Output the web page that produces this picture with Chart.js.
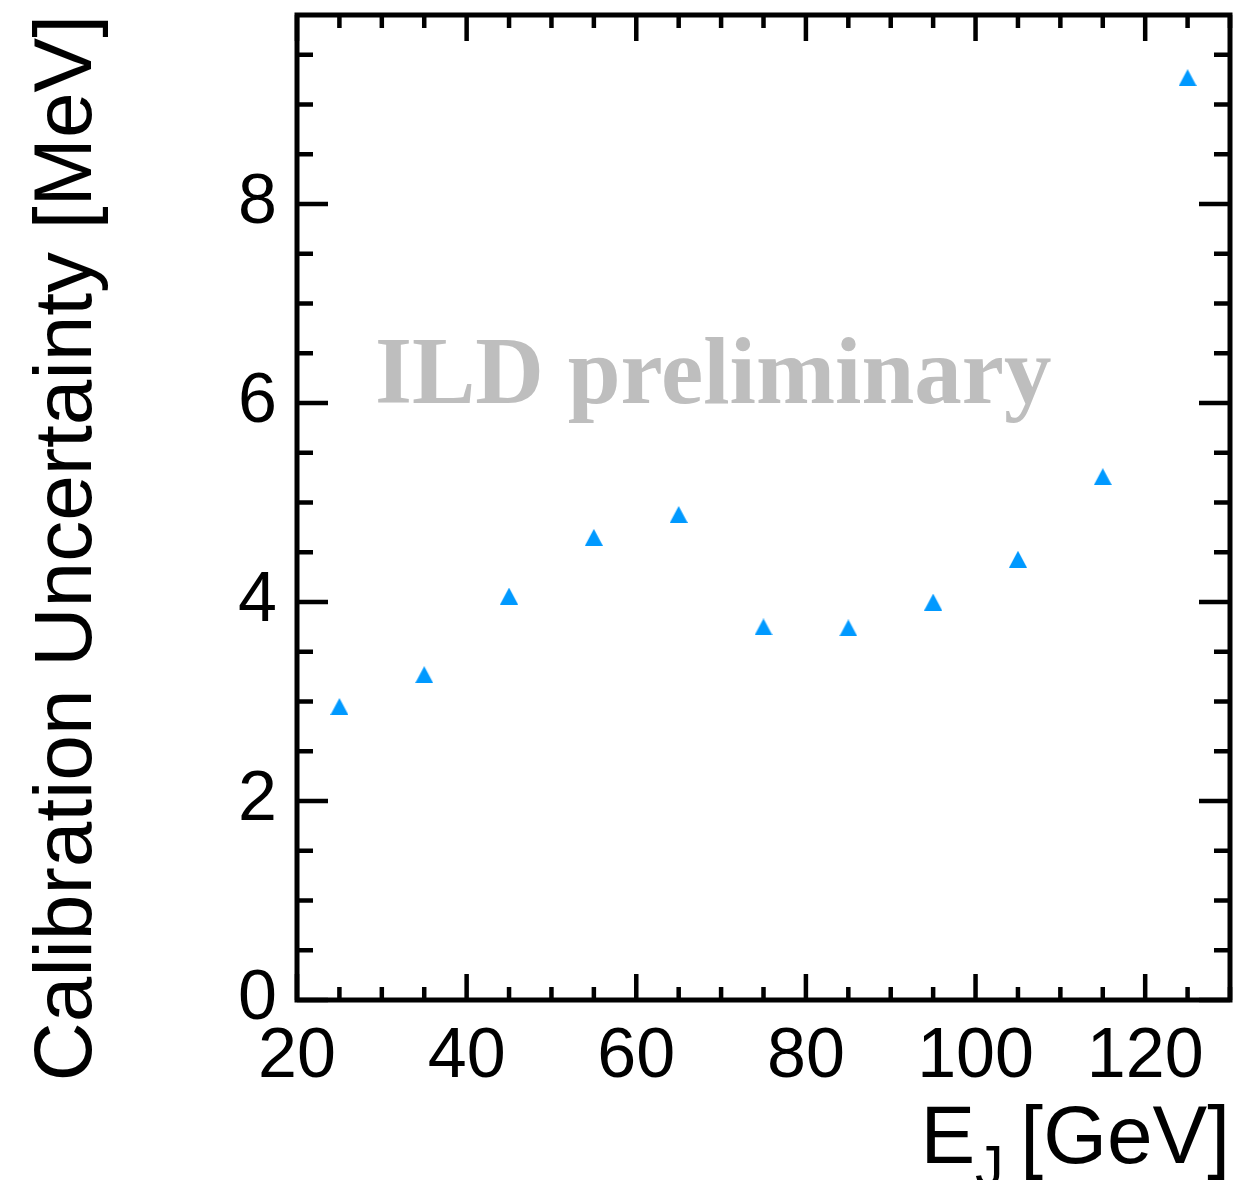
<!DOCTYPE html>
<html>
<head>
<meta charset="utf-8">
<script src="https://cdn.jsdelivr.net/npm/chart.js@4.4.1/dist/chart.umd.min.js"></script>
<style>
  html, body { margin: 0; padding: 0; background: #fff; }
  #wrap { width: 1253px; height: 1180px; }
</style>
</head>
<body>
<div id="wrap"><canvas id="calibChart" width="1253" height="1180"></canvas></div>
<script>
// jet energy [GeV] vs calibration uncertainty [MeV]
const jetEnergy = [25, 35, 45, 55, 65, 75, 85, 95, 105, 115, 125];
const calibUncertainty = [2.95, 3.27, 4.06, 4.65, 4.88, 3.75, 3.74, 4.00, 4.43, 5.26, 9.27];

// labelled (major) ticks
const xTickValues = [20, 40, 60, 80, 100, 120];
const yTickValues = [0, 2, 4, 6, 8];

const FONT = '"Liberation Sans", Helvetica, Arial, sans-serif';
const BLUE = '#0099ff';

// ROOT full triangle marker, centred on its bounding box
function triangleMarker(w, h, color) {
  const c = document.createElement('canvas');
  c.width = w; c.height = h;
  const g = c.getContext('2d');
  g.fillStyle = color;
  g.beginPath();
  g.moveTo(w / 2, 0);
  g.lineTo(w, h);
  g.lineTo(0, h);
  g.closePath();
  g.fill();
  return c;
}

// frame with inward ticks on all four sides
const rootFrame = {
  id: 'rootFrame',
  afterDraw(chart, args, o) {
    const {ctx, chartArea: a, scales: {x, y}} = chart;
    ctx.save();
    ctx.strokeStyle = '#000';
    ctx.lineWidth = o.tickWidth;
    ctx.beginPath();
    const nx = Math.round((x.max - x.min) / o.xMinor);
    for (let i = 0; i <= nx; i++) {
      const v = x.min + i * o.xMinor;
      const px = x.getPixelForValue(v);
      const len = xTickValues.includes(v) ? o.xMajorLen : o.xMinorLen;
      ctx.moveTo(px, a.bottom); ctx.lineTo(px, a.bottom - len);
      ctx.moveTo(px, a.top); ctx.lineTo(px, a.top + len);
    }
    const ny = Math.floor((y.max - y.min) / o.yMinor + 1e-9);
    for (let i = 0; i <= ny; i++) {
      const v = y.min + i * o.yMinor;
      const py = y.getPixelForValue(v);
      const len = yTickValues.includes(v) ? o.yMajorLen : o.yMinorLen;
      ctx.moveTo(a.left, py); ctx.lineTo(a.left + len, py);
      ctx.moveTo(a.right, py); ctx.lineTo(a.right - len, py);
    }
    ctx.stroke();
    ctx.lineWidth = o.frameWidth;
    ctx.strokeRect(a.left, a.top, a.right - a.left, a.bottom - a.top);
    ctx.restore();
  }
};

// x axis title with subscript, right aligned like ROOT
const xTitle = {
  id: 'xTitle',
  afterDraw(chart, args, o) {
    const {ctx, chartArea: a} = chart;
    const big = o.size + 'px ' + FONT;
    const small = Math.round(o.size * 0.7) + 'px ' + FONT;
    ctx.save();
    ctx.fillStyle = '#000';
    ctx.textBaseline = 'alphabetic';
    ctx.textAlign = 'left';
    ctx.font = big;
    const wE = ctx.measureText('E').width;
    const wRest = ctx.measureText(' [GeV]').width;
    ctx.font = small;
    const wJ = ctx.measureText('J').width - o.subKern;
    const base = a.bottom + o.baseline;
    let xx = a.right - (wE + wJ + wRest);
    ctx.font = big;
    ctx.fillText('E', xx, base);
    xx += wE;
    ctx.font = small;
    ctx.fillText('J', xx, base + o.subDrop);
    xx += wJ;
    ctx.font = big;
    ctx.fillText(' [GeV]', xx, base);
    ctx.restore();
  }
};

// watermark
const watermark = {
  id: 'watermark',
  beforeDatasetsDraw(chart, args, o) {
    const {ctx, scales: {x, y}} = chart;
    ctx.save();
    ctx.font = 'bold ' + o.size + 'px "Liberation Serif", "Times New Roman", serif';
    ctx.fillStyle = o.color;
    ctx.textBaseline = 'alphabetic';
    ctx.textAlign = 'left';
    ctx.fillText(o.text, x.getPixelForValue(o.x), y.getPixelForValue(o.y));
    ctx.restore();
  }
};

new Chart(document.getElementById('calibChart'), {
  type: 'scatter',
  data: {
    datasets: [{
      label: 'Calibration Uncertainty',
      data: jetEnergy.map((e, i) => ({x: e, y: calibUncertainty[i]})),
      pointStyle: triangleMarker(18, 17, BLUE),
      pointRadius: 9,
      backgroundColor: BLUE,
      borderColor: BLUE
    }]
  },
  options: {
    responsive: false,
    animation: false,
    layout: { padding: { top: 15, right: 23, left: 0, bottom: 0 } },
    plugins: {
      legend: { display: false },
      tooltip: { enabled: false },
      rootFrame: { tickWidth: 4.5, frameWidth: 5, xMinor: 5, yMinor: 0.5, xMajorLen: 26, xMinorLen: 13, yMajorLen: 31, yMinorLen: 16 },
      xTitle: { size: 82, baseline: 163, subDrop: 23, subKern: 6 },
      watermark: { text: 'ILD preliminary', size: 95, color: '#bebebe', x: 29.2, y: 6.0 }
    },
    scales: {
      x: {
        type: 'linear', min: 20, max: 130,
        afterBuildTicks: s => { s.ticks = xTickValues.map(v => ({value: v})); },
        afterFit: s => { s.height = 180; s.paddingLeft = 0; s.paddingRight = 0; },
        grid: { display: false, drawTicks: false },
        border: { display: false },
        ticks: { font: { family: FONT, size: 70 }, color: '#000', padding: 16, maxRotation: 0, autoSkip: false }
      },
      y: {
        type: 'linear', min: 0, max: 9.9,
        afterBuildTicks: s => { s.ticks = yTickValues.map(v => ({value: v})); },
        afterFit: s => { s.width = 297; s.paddingTop = 0; s.paddingBottom = 0; },
        grid: { display: false, drawTicks: false },
        border: { display: false },
        ticks: { font: { family: FONT, size: 70 }, color: '#000', padding: 20 },
        title: {
          display: true, text: 'Calibration Uncertainty [MeV]', align: 'end',
          font: { family: FONT, size: 82 }, color: '#000', padding: { top: 19, bottom: 0 }
        }
      }
    }
  },
  plugins: [rootFrame, xTitle, watermark]
});
</script>
</body>
</html>
